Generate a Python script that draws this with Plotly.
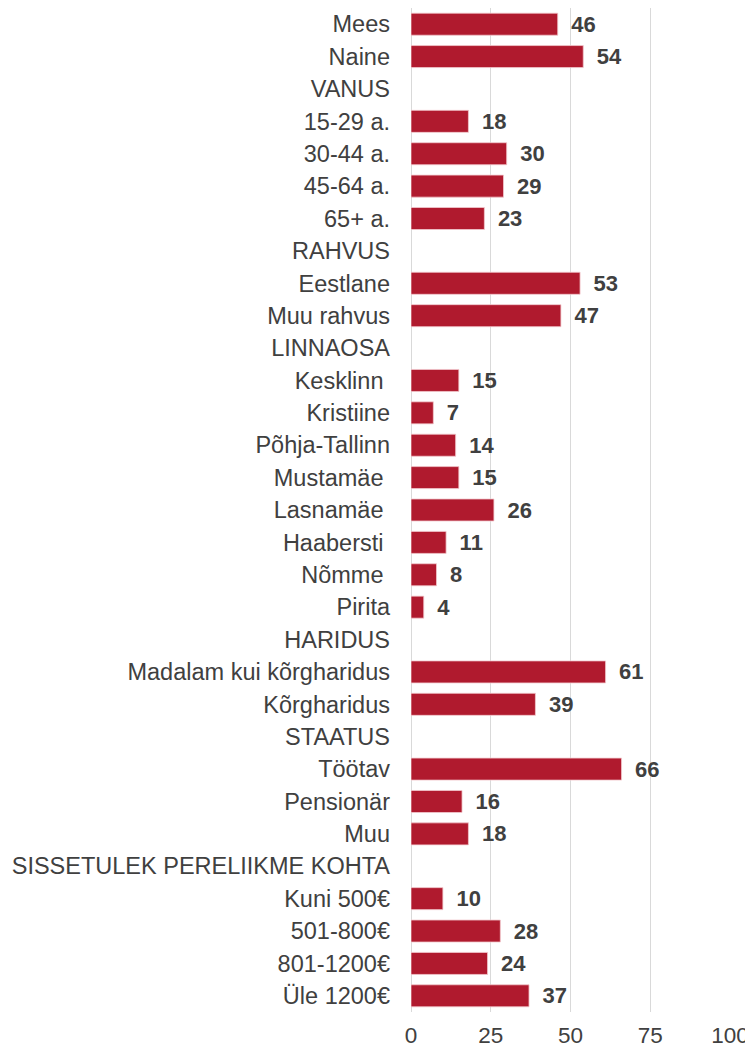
import plotly.graph_objects as go

categories = [
    "Mees", "Naine", "VANUS", "15-29 a.", "30-44 a.", "45-64 a.", "65+ a.",
    "RAHVUS", "Eestlane", "Muu rahvus", "LINNAOSA", "Kesklinn ", "Kristiine",
    "Põhja-Tallinn", "Mustamäe ", "Lasnamäe ", "Haabersti ", "Nõmme ", "Pirita",
    "HARIDUS", "Madalam kui kõrgharidus", "Kõrgharidus", "STAATUS", "Töötav",
    "Pensionär", "Muu", "SISSETULEK PERELIIKME KOHTA", "Kuni 500€", "501-800€",
    "801-1200€", "Üle 1200€",
]
values = [
    46, 54, None, 18, 30, 29, 23,
    None, 53, 47, None, 15, 7,
    14, 15, 26, 11, 8, 4,
    None, 61, 39, None, 66,
    16, 18, None, 10, 28,
    24, 37,
]
x_ticks = [0, 25, 50, 75, 100]

labels = ["\u00a0\u2009" + str(v) if v is not None else "" for v in values]

fig = go.Figure(go.Bar(
    y=categories, x=values, orientation="h",
    marker=dict(color="#B01A2E", line=dict(color="#F2C9CE", width=0.8)),
    text=labels, textposition="outside", cliponaxis=False, constraintext="none",
    textfont=dict(family="Liberation Sans, Arial", size=22, color="#404040", weight="bold"),
    hoverinfo="skip",
))

# the page body has an 8px default margin; figure size compensates for it
fig.update_layout(
    width=745, height=1043,
    margin=dict(l=403, r=23, t=0, b=39, autoexpand=False),
    paper_bgcolor="white", plot_bgcolor="white",
    bargap=0.32, showlegend=False,
    font=dict(family="Liberation Sans, Arial", size=23.5, color="#404040"),
    xaxis=dict(range=[0, 100], tickvals=x_ticks, showgrid=True, gridcolor="#D9D9D9",
               gridwidth=1, zeroline=True, zerolinecolor="#D9D9D9", zerolinewidth=1,
               showline=False, ticks="", ticklabelstandoff=7, automargin=False,
               tickfont=dict(size=22.5, color="#404040")),
    yaxis=dict(categoryorder="array", categoryarray=categories, autorange="reversed",
               showgrid=False, ticks="", ticklabelstandoff=20, showline=False,
               automargin=False, tickfont=dict(size=23.5, color="#404040")),
)

fig.write_html("out.html")
